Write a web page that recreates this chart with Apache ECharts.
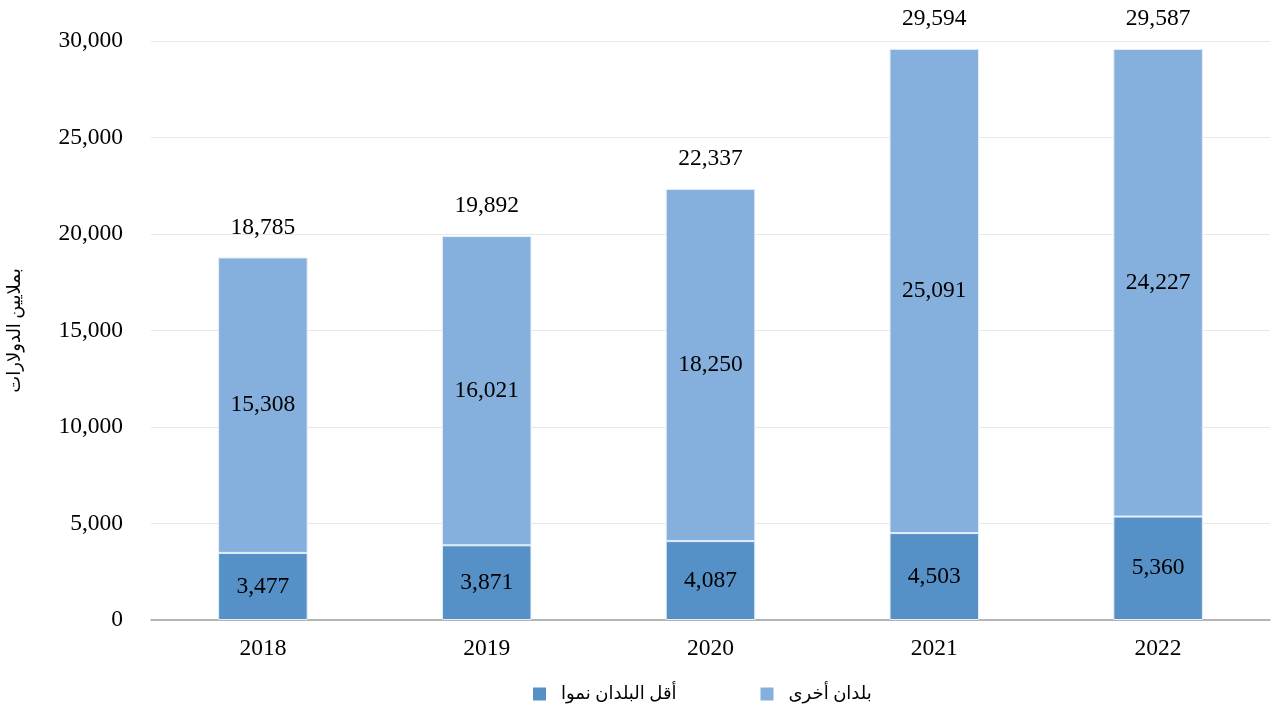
<!DOCTYPE html>
<html>
<head>
<meta charset="utf-8">
<script src="https://cdn.jsdelivr.net/npm/echarts@6/dist/echarts.min.js"></script>
<style>
html,body{margin:0;padding:0;background:#fff;}
#chart{width:1271px;height:711px;}
</style>
</head>
<body>
<div id="chart"></div>
<script>
var categories = ['2018', '2019', '2020', '2021', '2022'];
var ldcValues = [3477, 3871, 4087, 4503, 5360];
var otherValues = [15308, 16021, 18250, 25091, 24227];
var totalValues = [18785, 19892, 22337, 29594, 29587];
var seriesNames = ['أقل البلدان نموا', 'بلدان أخرى'];
var yAxisTitle = 'بملايين الدولارات';

var FONT = "'Liberation Serif', 'DejaVu Serif', 'DejaVu Sans', serif";
var FS = 23.5;
function fmt(v){ return v.toLocaleString('en-US'); }

var chart = echarts.init(document.getElementById('chart'));
chart.setOption({
  animation: false,
  backgroundColor: '#ffffff',
  textStyle: { fontFamily: FONT },
  grid: { left: 151, right: 1, top: 41, bottom: 91, containLabel: false, outerBoundsMode: 'none' },
  legend: {
    data: seriesNames,
    bottom: 3,
    left: 528,
    itemWidth: 13,
    itemHeight: 13,
    itemGap: 84,
    icon: 'rect',
    itemStyle: { borderWidth: 0 },
    textStyle: { fontFamily: FONT, fontSize: 18, color: '#000', padding: [0, 0, 0, 10] }
  },
  xAxis: {
    type: 'category',
    data: categories,
    axisTick: { show: false },
    axisLine: { lineStyle: { color: '#a0a0a0', width: 1.5 } },
    axisLabel: { fontFamily: FONT, fontSize: FS, color: '#000', margin: 17 }
  },
  yAxis: {
    type: 'value',
    min: 0,
    max: 30000,
    interval: 5000,
    name: yAxisTitle,
    nameLocation: 'middle',
    nameRotate: 90,
    nameGap: 127,
    nameTextStyle: { fontFamily: FONT, fontSize: 18, color: '#000' },
    axisLine: { show: false },
    axisTick: { show: false },
    splitLine: { lineStyle: { color: '#e8e8e8', width: 1 } },
    axisLabel: { fontFamily: FONT, fontSize: FS, color: '#000', margin: 28, formatter: function(v){ return fmt(v); } }
  },
  series: [
    {
      name: seriesNames[0],
      type: 'bar',
      stack: 'total',
      barWidth: '40%',
      data: ldcValues,
      itemStyle: { color: '#5590C7', borderColor: '#e4eef9', borderWidth: 1 },
      label: { show: true, position: 'inside', fontFamily: FONT, fontSize: FS, color: '#000', formatter: function(p){ return fmt(p.value); } }
    },
    {
      name: seriesNames[1],
      type: 'bar',
      stack: 'total',
      barWidth: '40%',
      data: otherValues,
      itemStyle: { color: '#85AFDC', borderColor: '#e4eef9', borderWidth: 1 },
      label: { show: true, position: 'inside', fontFamily: FONT, fontSize: FS, color: '#000', formatter: function(p){ return fmt(p.value); } }
    },
    {
      name: 'total',
      type: 'bar',
      barWidth: '40%',
      barGap: '-100%',
      data: totalValues,
      silent: true,
      z: 0,
      itemStyle: { color: 'rgba(0,0,0,0)' },
      label: { show: true, position: 'top', distance: 18, fontFamily: FONT, fontSize: FS, color: '#000', formatter: function(p){ return fmt(p.value); } }
    }
  ]
});
</script>
</body>
</html>
